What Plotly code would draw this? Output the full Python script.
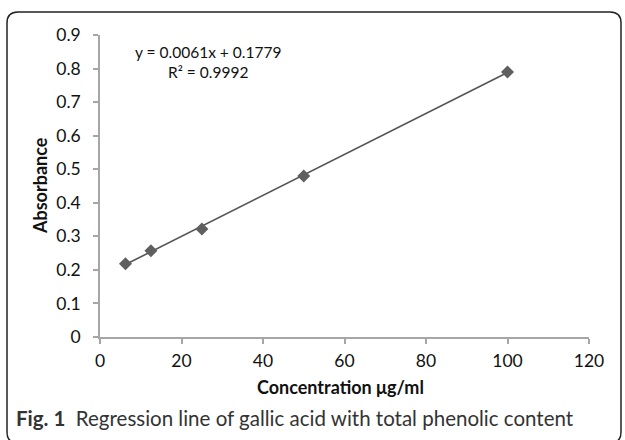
import plotly.graph_objects as go

# Data
concentration = [6.25, 12.5, 25, 50, 100]
absorbance = [0.218, 0.257, 0.322, 0.480, 0.790]
trend_x = [6.25, 100]
trend_y = [0.216, 0.788]
x_ticks = [0, 20, 40, 60, 80, 100, 120]
y_ticks = [0, 0.1, 0.2, 0.3, 0.4, 0.5, 0.6, 0.7, 0.8, 0.9]
y_tick_labels = ["0", "0.1", "0.2", "0.3", "0.4", "0.5", "0.6", "0.7", "0.8", "0.9"]
equation_text = "y = 0.0061x + 0.1779<br>R² = 0.9992"
caption_text = "<b>Fig. 1</b>  Regression line of gallic acid with total phenolic content"

W, H = 625, 440
L, R, T, B = 100, 36, 35, 103
pw, ph = W - L - R, H - T - B


def px(x):
    return (x - L) / pw


def py(y):
    return (H - B - y) / ph


FONT = "Lato"
AX = "#a6a6a6"

fig = go.Figure()
fig.add_trace(go.Scatter(x=trend_x, y=trend_y, mode="lines",
                         line=dict(color="#555555", width=1.6),
                         hoverinfo="skip", showlegend=False))
fig.add_trace(go.Scatter(x=concentration, y=absorbance, mode="markers",
                         marker=dict(symbol="diamond", size=10, color="#5f5f5f"),
                         showlegend=False))

# rounded border box
x0, y0, x1, y1, r = 7, 12, 621, 443, 11
path = (f"M {px(x0)},{py(y0 + r)} Q {px(x0)},{py(y0)} {px(x0 + r)},{py(y0)} "
        f"L {px(x1 - r)},{py(y0)} Q {px(x1)},{py(y0)} {px(x1)},{py(y0 + r)} "
        f"L {px(x1)},{py(y1 - r)} Q {px(x1)},{py(y1)} {px(x1 - r)},{py(y1)} "
        f"L {px(x0 + r)},{py(y1)} Q {px(x0)},{py(y1)} {px(x0)},{py(y1 - r)} Z")
fig.add_shape(type="path", path=path, xref="paper", yref="paper",
              line=dict(color="#222222", width=1.5), layer="below")


def label(x, y, text, size, color="#111111", xanchor="center", angle=0):
    fig.add_annotation(x=px(x), y=py(y), xref="paper", yref="paper",
                       text=text, showarrow=False, align="center",
                       xanchor=xanchor, yanchor="middle", textangle=angle,
                       font=dict(family=FONT, size=size, color=color))


label(208, 62, equation_text, 15.5)
label(14, 418, caption_text, 20.5, color="#333333", xanchor="left")
label(40, 186, "<b>Absorbance</b>", 18, angle=-90)
label(340, 387, "<b>Concentration μg/ml</b>", 18)

fig.update_layout(
    width=W, height=H,
    margin=dict(l=L, r=R, t=T, b=B, autoexpand=False),
    paper_bgcolor="white", plot_bgcolor="white",
    font=dict(family=FONT, size=17, color="#111111"),
    xaxis=dict(range=[0, 120], tickvals=x_ticks, showgrid=False, zeroline=False,
               showline=True, linecolor=AX, linewidth=1.5, automargin=False,
               ticks="outside", ticklen=5, tickcolor=AX, tickwidth=1.5,
               ticklabelstandoff=2, tickfont=dict(size=17.5)),
    yaxis=dict(range=[0, 0.9], tickvals=y_ticks, ticktext=y_tick_labels,
               showgrid=False, automargin=False,
               zeroline=False, showline=True, linecolor=AX, linewidth=1.5,
               ticks="outside", ticklen=5, tickcolor=AX, tickwidth=1.5,
               ticklabelstandoff=9, tickfont=dict(size=17.5)),
)

fig.write_html("out.html", config={"displayModeBar": False},
               post_script="document.body.style.margin='0px';")
